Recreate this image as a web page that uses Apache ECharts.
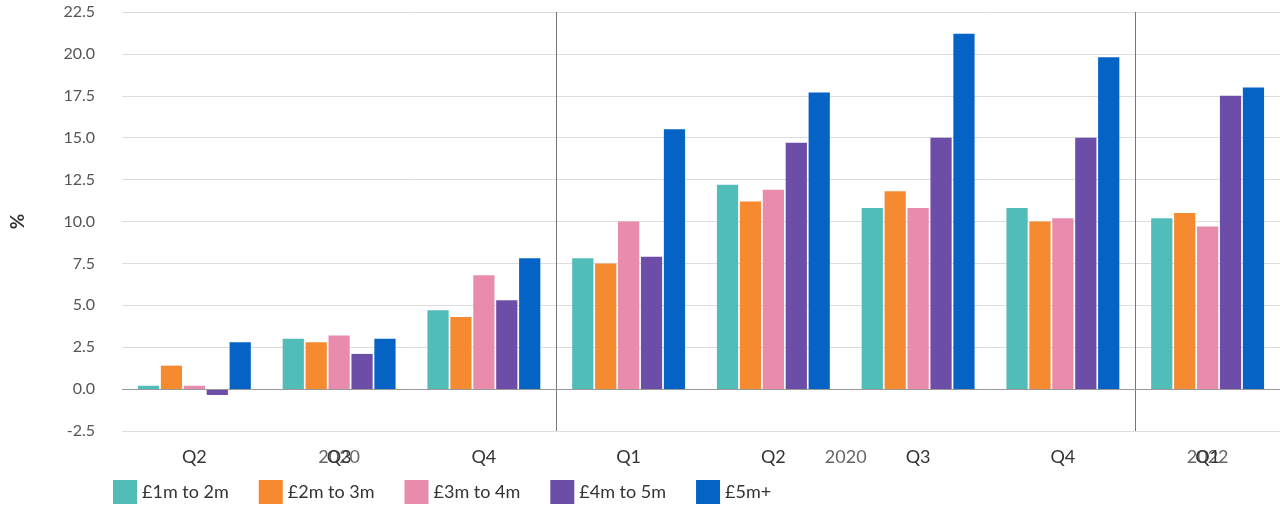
<!DOCTYPE html>
<html>
<head>
<meta charset="utf-8">
<script src="https://cdn.jsdelivr.net/npm/echarts@6/dist/echarts.min.js"></script>
<style>html,body{margin:0;padding:0;background:#fff}#chart{width:1280px;height:509px}</style>
</head>
<body>
<div id="chart"></div>
<script>
// categories and values
var quarters = ['Q2', 'Q3', 'Q4', 'Q1', 'Q2', 'Q3', 'Q4', 'Q1'];
var seriesNames = ['£1m to 2m', '£2m to 3m', '£3m to 4m', '£4m to 5m', '£5m+'];
var band1to2 = [0.2, 3.0, 4.7, 7.8, 12.2, 10.8, 10.8, 10.2];
var band2to3 = [1.4, 2.8, 4.3, 7.5, 11.2, 11.8, 10.0, 10.5];
var band3to4 = [0.2, 3.2, 6.8, 10.0, 11.9, 10.8, 10.2, 9.7];
var band4to5 = [-0.35, 2.1, 5.3, 7.9, 14.7, 15.0, 15.0, 17.5];
var band5plus = [2.8, 3.0, 7.8, 15.5, 17.7, 21.2, 19.8, 18.0];
var colors = ['#52bcb8', '#f58a31', '#e98bac', '#6c4ea8', '#0563c6'];
// year groups: label, first index, last index
var years = [['2020', 0, 2], ['2020', 3, 6], ['2022', 7, 7]];

var font = 'Lato';
var myChart = echarts.init(document.getElementById('chart'));
var allData = [band1to2, band2to3, band3to4, band4to5, band5plus];
var series = [];
for (var i = 0; i < allData.length; i++) {
	var s = {
		name: seriesNames[i],
		type: 'bar',
		data: allData[i],
		barGap: '8%',
		barCategoryGap: '22%',
		itemStyle: {color: colors[i]}
	};
	if (i == 0) {
		s.markLine = {
			silent: true, symbol: 'none', label: {show: false},
			lineStyle: {color: '#999', type: 'solid', width: 1},
			data: [{yAxis: 0}]
		};
	}
	series.push(s);
}
myChart.setOption({
	animation: false,
	textStyle: {fontFamily: font},
	grid: {left: 109, top: 12, width: 1184, height: 419},
	legend: {
		data: seriesNames, left: 108, bottom: 0, itemWidth: 24, itemHeight: 24, itemGap: 30,
		icon: 'rect', textStyle: {fontSize: 18, color: '#333', fontFamily: font}
	},
	xAxis: {
		type: 'category', data: quarters,
		axisLine: {show: false}, axisTick: {show: false},
		axisLabel: {fontSize: 18, color: '#333', margin: 17}
	},
	yAxis: {
		type: 'value', min: -2.5, max: 22.5, interval: 2.5,
		name: '%', nameLocation: 'middle', nameGap: 95, nameRotate: 90,
		nameTextStyle: {fontSize: 19, color: '#333', fontWeight: 'bold'},
		axisLabel: {fontSize: 16, color: '#555', margin: 27, formatter: function(v) { return v.toFixed(1); }},
		splitLine: {lineStyle: {color: '#ddd'}}
	},
	series: series
});

// separators between years and year labels, placed via the chart's own axes
var graphics = [];
var yTop = myChart.convertToPixel({yAxisIndex: 0}, 22.5);
var yBot = myChart.convertToPixel({yAxisIndex: 0}, -2.5);
for (var j = 0; j < years.length; j++) {
	var x0 = myChart.convertToPixel({xAxisIndex: 0}, years[j][1]);
	var x1 = myChart.convertToPixel({xAxisIndex: 0}, years[j][2]);
	graphics.push({type: 'text', x: (x0 + x1) / 2, y: 448,
		style: {text: years[j][0], fill: '#666', font: '18px ' + font, textAlign: 'center'}});
	if (j > 0) {
		var prev = myChart.convertToPixel({xAxisIndex: 0}, years[j][1] - 1);
		var sx = Math.round((prev + x0) / 2) + 0.5;
		graphics.push({type: 'line', shape: {x1: sx, y1: yTop, x2: sx, y2: yBot},
			style: {stroke: '#777', lineWidth: 1}});
	}
}
myChart.setOption({graphic: graphics});
</script>
</body>
</html>
